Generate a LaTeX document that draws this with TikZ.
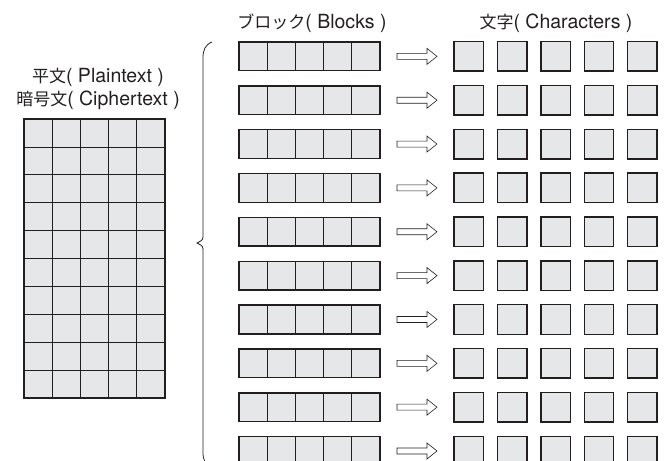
\documentclass[tikz,border=0pt]{standalone}
\usepackage{fontspec}
\setmainfont{TeX Gyre Heros}
\newfontfamily\cjk{Noto Sans CJK JP}
\newcommand{\jp}[1]{{\cjk\fontsize{17}{22}\selectfont #1}}
\definecolor{cellfill}{HTML}{E6E7E8}
\definecolor{ink}{HTML}{231F20}
\tikzset{
  cell/.style={draw=ink,fill=cellfill,line width=0.7pt,minimum width=28.2pt,minimum height=#1,inner sep=0pt,outer sep=0pt},
  cell/.default=28.7pt,
  frame/.style={draw=ink,line width=1.4pt},
  chr/.style={draw=ink,fill=cellfill,line width=1.4pt,minimum size=29.5pt,inner sep=0pt},
  conv/.style={draw=ink,fill=white,line width=0.6pt},
  lbl/.style={font=\fontsize{19.5}{22}\selectfont,text=ink,inner sep=0pt},
  brace/.style={draw=ink,line width=0.8pt},
}
\begin{document}
\begin{tikzpicture}[x=1pt,y=-1pt]
  \useasboundingbox (0,0) rectangle (665,461);
  \clip (0,0) rectangle (665,461);
  \node[lbl] (pt) at (98,77) {\jp{平文}( Plaintext )};
  \node[lbl] (ct) at (98,100) {\jp{暗号文}( Ciphertext )};
  \node[lbl] (bt) at (312,23) {\jp{ブロック}( Blocks )};
  \node[lbl] (ch) at (556,23) {\jp{文字}( Characters )};
  \foreach \r in {1,...,10} {
    \foreach \c in {1,...,5}
      \node[cell=27.9pt] (g-\r-\c) at ({24+14.1+28.2*(\c-1)},{119+13.95+27.9*(\r-1)}) {};
  }
  \draw[frame] (g-1-1.north west) rectangle (g-10-5.south east);
  \draw[brace] (212,42) .. controls (205,45) and (203,50) .. (203,58) -- (203,234)
    .. controls (203,240) .. (197,243) .. controls (203,246) .. (203,252) -- (203,452)
    .. controls (203,460) and (205,465) .. (212,468);
  \foreach \r in {1,...,10} {
    \foreach \c in {1,...,5}
      \node[cell] (b-\r-\c) at ({239+14.1+28.2*(\c-1)},{42+14.35+43.85*(\r-1)}) {};
    \draw[frame] (b-\r-1.north west) rectangle (b-\r-5.south east);
    \coordinate (a-\r) at (397,{42+14.35+43.85*(\r-1)});
    \draw[conv] (a-\r) ++(0,-3) -- ++(30,0) -- ++(0,-5) -- ++(10,8) -- ++(-10,8)
      -- ++(0,-5) -- ++(-30,0) -- cycle;
    \foreach \c in {1,...,5}
      \node[chr] (c-\r-\c) at ({454+14.75+43.4*(\c-1)},{42+14.35+43.85*(\r-1)}) {};
  }
\end{tikzpicture}
\end{document}
